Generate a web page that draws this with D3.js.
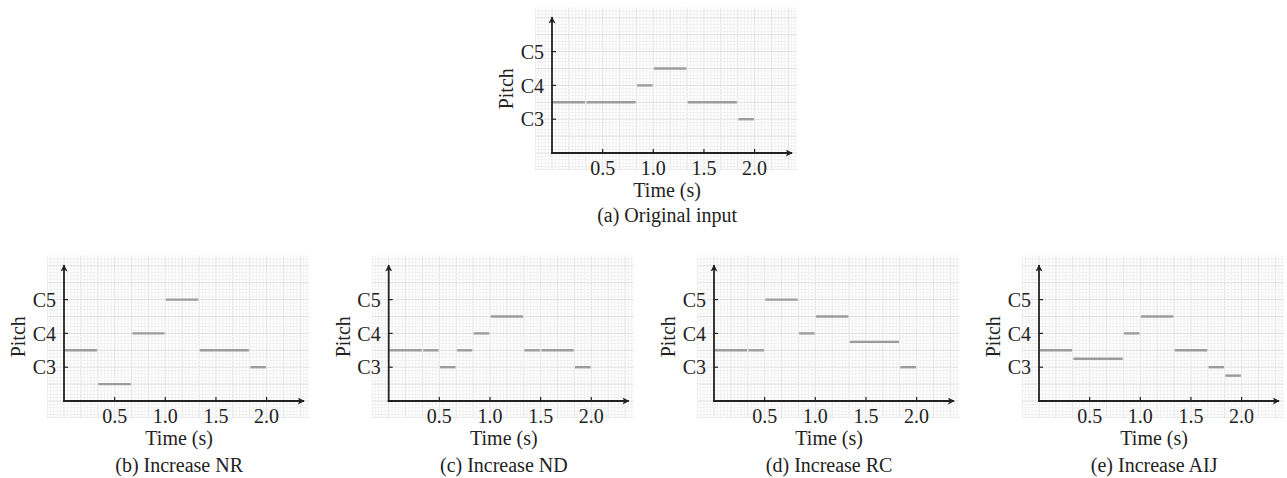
<!DOCTYPE html>
<html>
<head>
<meta charset="utf-8">
<script src="https://cdn.jsdelivr.net/npm/d3@7"></script>
<style>
    body { margin: 0; background: #fff; }
</style>
</head>
<body>
<div id="figure"></div>
<script>

// tick values / labels
const timeTicks = [0.5, 1.0, 1.5, 2.0];
const pitchTicks = [3, 4, 5];
const pitchLabels = ['C3', 'C4', 'C5'];

// notes: start / end in seconds, pitch in octaves (3 = C3, 3.5 = half way to C4)
const originalNotes = [
    { start: 0, end: 0.333, pitch: 3.5 },
    { start: 0.333, end: 0.833, pitch: 3.5 },
    { start: 0.833, end: 1.0, pitch: 4 },
    { start: 1.0, end: 1.333, pitch: 4.5 },
    { start: 1.333, end: 1.833, pitch: 3.5 },
    { start: 1.833, end: 2.0, pitch: 3 }
];

const nrNotes = [
    { start: 0, end: 0.333, pitch: 3.5 },
    { start: 0.333, end: 0.667, pitch: 2.5 },
    { start: 0.667, end: 1.0, pitch: 4 },
    { start: 1.0, end: 1.333, pitch: 5 },
    { start: 1.333, end: 1.833, pitch: 3.5 },
    { start: 1.833, end: 2.0, pitch: 3 }
];

const ndNotes = [
    { start: 0, end: 0.333, pitch: 3.5 },
    { start: 0.333, end: 0.5, pitch: 3.5 },
    { start: 0.5, end: 0.667, pitch: 3 },
    { start: 0.667, end: 0.833, pitch: 3.5 },
    { start: 0.833, end: 1.0, pitch: 4 },
    { start: 1.0, end: 1.333, pitch: 4.5 },
    { start: 1.333, end: 1.5, pitch: 3.5 },
    { start: 1.5, end: 1.833, pitch: 3.5 },
    { start: 1.833, end: 2.0, pitch: 3 }
];

const rcNotes = [
    { start: 0, end: 0.333, pitch: 3.5 },
    { start: 0.333, end: 0.5, pitch: 3.5 },
    { start: 0.5, end: 0.833, pitch: 5 },
    { start: 0.833, end: 1.0, pitch: 4 },
    { start: 1.0, end: 1.333, pitch: 4.5 },
    { start: 1.333, end: 1.833, pitch: 3.75 },
    { start: 1.833, end: 2.0, pitch: 3 }
];

const aijNotes = [
    { start: 0, end: 0.333, pitch: 3.5 },
    { start: 0.333, end: 0.833, pitch: 3.25 },
    { start: 0.833, end: 1.0, pitch: 4 },
    { start: 1.0, end: 1.333, pitch: 4.5 },
    { start: 1.333, end: 1.667, pitch: 3.5 },
    { start: 1.667, end: 1.833, pitch: 3 },
    { start: 1.833, end: 2.0, pitch: 2.75 }
];

const panels = [
    { notes: originalNotes, caption: '(a) Original input', x: 552, y: 153, captionDy: 69 },
    { notes: nrNotes, caption: '(b) Increase NR', x: 64, y: 401, captionDy: 71 },
    { notes: ndNotes, caption: '(c) Increase ND', x: 388.7, y: 401, captionDy: 71 },
    { notes: rcNotes, caption: '(d) Increase RC', x: 714, y: 401, captionDy: 71 },
    { notes: aijNotes, caption: '(e) Increase AIJ', x: 1039, y: 401, captionDy: 71 }
];

var FONT = '"Liberation Serif", "Times New Roman", Times, "DejaVu Serif", serif';


class PianoRoll {

    constructor(config) {

        this._config = config;
        this._notes = config.notes;

        this._pxPerSecond = 101.3;
        this._pxPerOctave = 33.8;

        // extents in data units
        this._grid = { t0: -1 / 6, t1: 2.42, p0: 1.5, p1: 6.3 };
        this._axis = { t1: 2.37, p0: 2, p1: 6.02 };
    }

    static getInstance(config) {

        return new PianoRoll(config);
    }

    renderTo(parent) {

        var x = this._getXScale();
        var y = this._getYScale();
        var g = this._grid;
        var id = this._config.id;

        var canvas = parent.append('g')
            .attr('class', 'piano-roll')
            .attr('transform', 'translate(' + [this._config.x, this._config.y] + ')');

        // background grid
        canvas.append('defs')
            .append('clipPath')
            .attr('id', 'clip-' + id)
            .append('rect')
            .attr('x', x(g.t0))
            .attr('y', y(g.p1))
            .attr('width', x(g.t1) - x(g.t0))
            .attr('height', y(g.p0) - y(g.p1));

        var grid = canvas.append('g')
            .attr('class', 'grid')
            .attr('clip-path', 'url(#clip-' + id + ')');

        var vCells = d3.range(Math.round(g.t0 * 30), Math.ceil(g.t1 * 30) + 1);
        var hCells = d3.range(Math.round(g.p0 * 10), Math.ceil(g.p1 * 10) + 1);
        var isMajor = d => d % 5 === 0;

        grid.selectAll('line.v')
            .data(vCells.sort((a, b) => isMajor(a) - isMajor(b)))
            .enter()
            .append('line')
            .attr('class', 'v')
            .attr('x1', d => x(d / 30))
            .attr('x2', d => x(d / 30))
            .attr('y1', y(g.p1))
            .attr('y2', y(g.p0))
            .style('stroke', d => isMajor(d) ? '#e0e0e0' : '#f1f1f1')
            .style('stroke-width', 1);

        grid.selectAll('line.h')
            .data(hCells.sort((a, b) => isMajor(a) - isMajor(b)))
            .enter()
            .append('line')
            .attr('class', 'h')
            .attr('x1', x(g.t0))
            .attr('x2', x(g.t1))
            .attr('y1', d => y(d / 10))
            .attr('y2', d => y(d / 10))
            .style('stroke', d => isMajor(d) ? '#e0e0e0' : '#f1f1f1')
            .style('stroke-width', 1);

        // notes
        canvas.selectAll('line.note')
            .data(this._notes)
            .enter()
            .append('line')
            .attr('class', 'note')
            .attr('x1', d => x(d.start) + 0.7)
            .attr('x2', d => x(d.end) - 0.7)
            .attr('y1', d => y(d.pitch))
            .attr('y2', d => y(d.pitch))
            .style('stroke', '#9c9c9c')
            .style('stroke-width', 2.4);

        // axes with arrow heads
        var marker = canvas.append('defs')
            .append('marker')
            .attr('id', 'arrow-' + id)
            .attr('markerUnits', 'userSpaceOnUse')
            .attr('viewBox', '0 0 10 10')
            .attr('refX', 9)
            .attr('refY', 5)
            .attr('markerWidth', 9)
            .attr('markerHeight', 7)
            .attr('orient', 'auto');

        marker.append('path')
            .attr('d', 'M0,0L10,5L0,10L2.5,5Z')
            .style('fill', '#222');

        canvas.append('line')
            .attr('class', 'x-axis')
            .attr('x1', x(0) - 1)
            .attr('x2', x(this._axis.t1))
            .attr('y1', y(this._axis.p0))
            .attr('y2', y(this._axis.p0))
            .style('stroke', '#222')
            .style('stroke-width', 1.8)
            .attr('marker-end', 'url(#arrow-' + id + ')');

        canvas.append('line')
            .attr('class', 'y-axis')
            .attr('x1', x(0))
            .attr('x2', x(0))
            .attr('y1', y(this._axis.p0) + 1)
            .attr('y2', y(this._axis.p1))
            .style('stroke', '#222')
            .style('stroke-width', 1.8)
            .attr('marker-end', 'url(#arrow-' + id + ')');

        // ticks (inward) and labels
        var xTicks = canvas.selectAll('g.x-tick')
            .data(timeTicks)
            .enter()
            .append('g')
            .attr('class', 'x-tick')
            .attr('transform', d => 'translate(' + [x(d), y(this._axis.p0)] + ')');

        xTicks.append('line')
            .attr('y1', 0)
            .attr('y2', -4)
            .style('stroke', '#222')
            .style('stroke-width', 1.2);

        this._text(xTicks)
            .attr('y', 22)
            .attr('text-anchor', 'middle')
            .text(d => d3.format('.1f')(d));

        var yTicks = canvas.selectAll('g.y-tick')
            .data(pitchTicks)
            .enter()
            .append('g')
            .attr('class', 'y-tick')
            .attr('transform', d => 'translate(' + [x(0), y(d)] + ')');

        yTicks.append('line')
            .attr('x1', 0)
            .attr('x2', 4)
            .style('stroke', '#222')
            .style('stroke-width', 1.2);

        this._text(yTicks)
            .attr('x', -8)
            .attr('dy', '0.36em')
            .attr('text-anchor', 'end')
            .text((d, i) => pitchLabels[i]);

        // titles
        var cx = (x(g.t0) + x(g.t1)) / 2 + 1;

        this._text(canvas)
            .attr('x', cx)
            .attr('y', 43.5)
            .attr('text-anchor', 'middle')
            .text('Time (s)');

        this._text(canvas)
            .attr('transform', 'translate(' + [x(0) - 39, (y(g.p0) + y(g.p1)) / 2] + ') rotate(-90)')
            .attr('text-anchor', 'middle')
            .text('Pitch');

        this._text(canvas)
            .attr('x', cx)
            .attr('y', this._config.captionDy)
            .attr('text-anchor', 'middle')
            .text(this._config.caption);

        return this;
    }

    _text(sel) {

        return sel.append('text')
            .attr('font-family', FONT)
            .style('font-family', FONT)
            .style('font-size', '20px')
            .style('fill', '#222');
    }

    _getXScale() {

        return d3.scaleLinear()
            .domain([0, 1])
            .range([0, this._pxPerSecond]);
    }

    _getYScale() {

        // origin of the panel sits on C2
        return d3.scaleLinear()
            .domain([2, 3])
            .range([0, -this._pxPerOctave]);
    }
}


var svg = d3.select('#figure')
    .append('svg')
    .attr('width', 1287)
    .attr('height', 478);

panels.forEach(function(p, i) {
    PianoRoll.getInstance(Object.assign({ id: 'p' + i }, p)).renderTo(svg);
});

</script>
</body>
</html>
